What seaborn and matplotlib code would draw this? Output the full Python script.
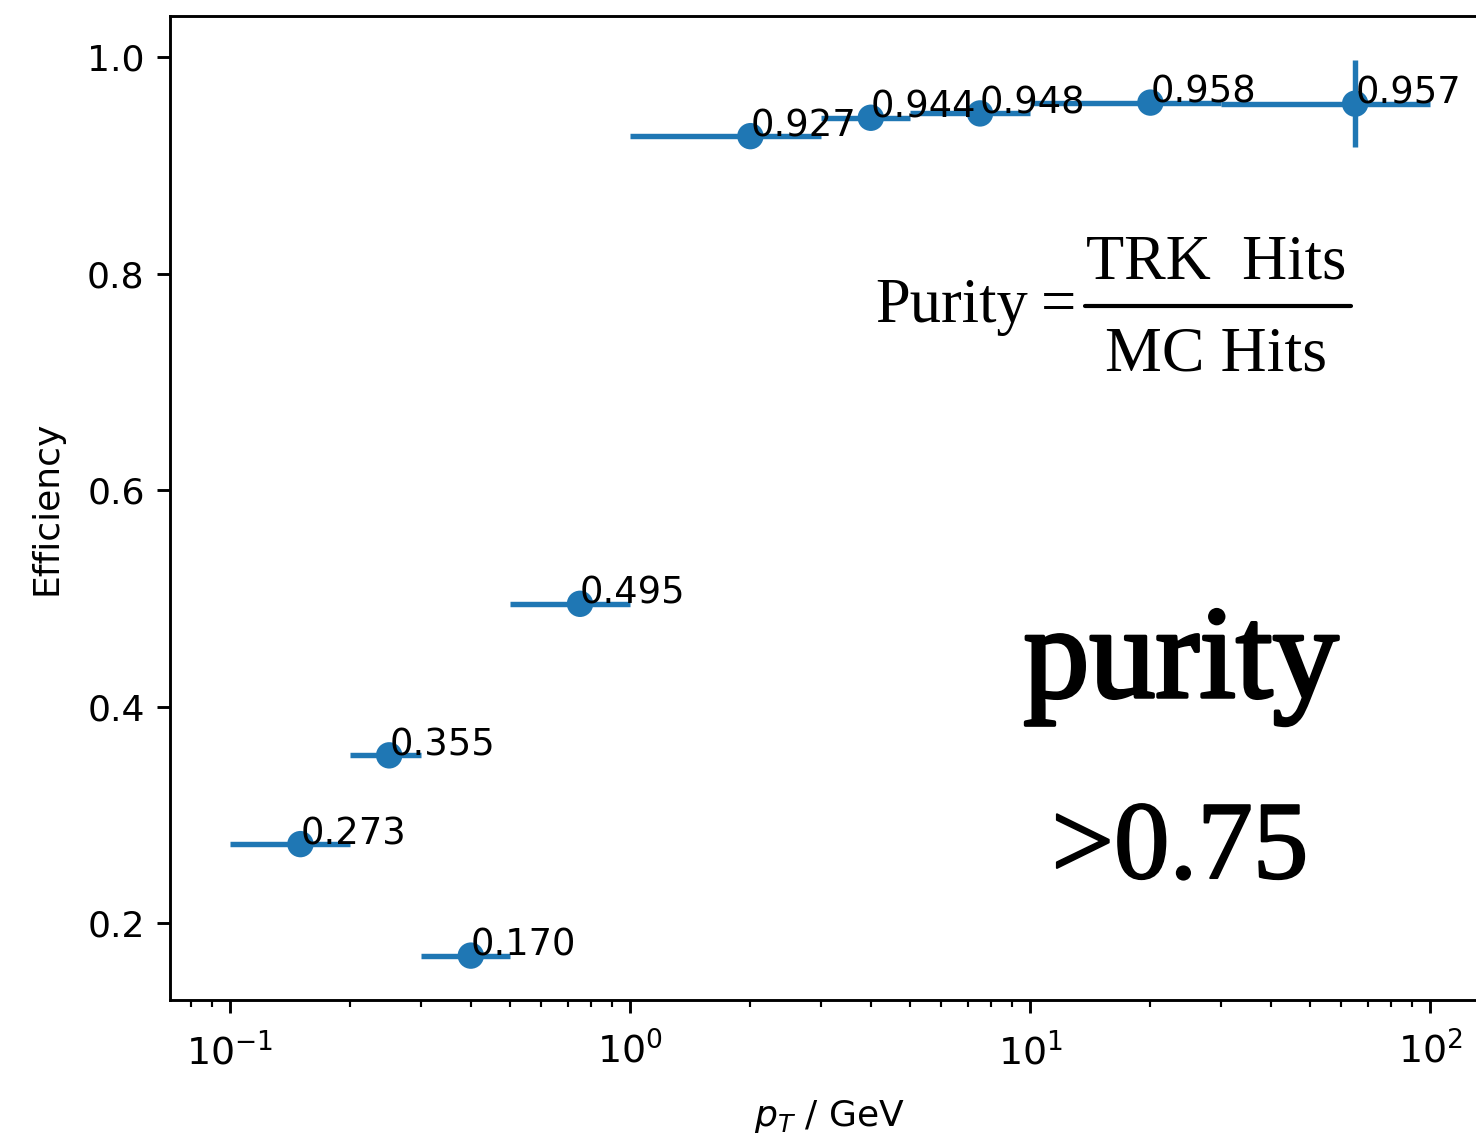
import numpy as np
import matplotlib
matplotlib.use("Agg")
import matplotlib.pyplot as plt
import matplotlib.patheffects as pe
import seaborn as sns
import pandas as pd
from matplotlib.lines import Line2D

# ---- data ----
bin_lo = [0.1, 0.2, 0.3, 0.5, 1.0, 3.0, 5.0, 10.0, 30.0]
bin_hi = [0.2, 0.3, 0.5, 1.0, 3.0, 5.0, 10.0, 30.0, 100.0]
pt_center = [0.15, 0.25, 0.4, 0.75, 2.0, 4.0, 7.5, 20.0, 65.0]
efficiency = [0.273, 0.355, 0.170, 0.495, 0.927, 0.944, 0.948, 0.958, 0.957]
eff_err = [0.0, 0.0, 0.0, 0.0, 0.0, 0.0, 0.0, 0.0, 0.04]
labels = ["0.273", "0.355", "0.170", "0.495", "0.927", "0.944", "0.948", "0.958", "0.957"]

df = pd.DataFrame({"pt": pt_center, "eff": efficiency})

S = 2.6  # scale factor relative to matplotlib defaults
sns.set_style("ticks", {"axes.edgecolor": "black", "xtick.color": "black",
                        "ytick.color": "black", "text.color": "black",
                        "axes.labelcolor": "black"})
plt.rcParams["font.family"] = ["DejaVu Sans"]
plt.rcParams.update({
    "font.size": 10 * S,
    "axes.linewidth": 0.8 * S,
    "xtick.major.size": 3.5 * S, "ytick.major.size": 3.5 * S,
    "xtick.minor.size": 2.0 * S,
    "xtick.major.width": 0.8 * S, "ytick.major.width": 0.8 * S,
    "xtick.minor.width": 0.6 * S,
    "xtick.major.pad": 5.5 * S, "ytick.major.pad": 3.5 * S,
    "xtick.labelsize": 10.5 * S, "ytick.labelsize": 10 * S,
    "axes.labelsize": 10 * S,
    "mathtext.fontset": "dejavusans",
})

W, H = 1476, 1136
fig = plt.figure(figsize=(W / 100, H / 100), dpi=100)
ax = fig.add_axes([170 / W, 136 / H, 1320 / W, 984 / H])

color = "#1f77b4"
xerr = [np.array(pt_center) - np.array(bin_lo), np.array(bin_hi) - np.array(pt_center)]
ax.errorbar(pt_center, efficiency, xerr=xerr, yerr=eff_err, fmt="none",
            ecolor=color, elinewidth=1.5 * S, zorder=2)
sns.scatterplot(data=df, x="pt", y="eff", ax=ax, color=color, s=19 ** 2,
                edgecolor="none", linewidth=0, zorder=3)

for x, y, t in zip(pt_center, efficiency, labels):
    ax.text(x, y, t, fontsize=10.2 * S, zorder=4)

ax.set_xscale("log")
ax.set_xlim(10 ** -1.15, 10 ** 2.15)
ax.set_ylim(0.129, 1.038)
ax.set_yticks([0.2, 0.4, 0.6, 0.8, 1.0])
ax.set_xlabel("$p_T$ / GeV", labelpad=7 * S)
ax.set_ylabel("Efficiency", labelpad=6.5 * S)
ax.spines["right"].set_visible(False)

# ---- annotations (serif) ----
serif = ["Liberation Serif", "DejaVu Serif"]
def fx(px):
    return px / W
def fy(py):
    return 1 - py / H

fs = 45
fig.text(fx(1028), fy(322), "Purity", family=serif, fontsize=fs,
         ha="right", va="baseline")
fig.text(fx(1058), fy(322), "=", family=serif, fontsize=fs,
         ha="center", va="baseline")
fig.text(fx(1216), fy(278), "TRK  Hits", family=serif, fontsize=fs,
         ha="center", va="baseline")
fig.text(fx(1216), fy(370), "MC Hits", family=serif, fontsize=fs + 1,
         ha="center", va="baseline")
fig.add_artist(Line2D([fx(1085), fx(1351)], [fy(306), fy(306)],
                      transform=fig.transFigure, color="black", lw=3))

fig.text(fx(1181), fy(697), "purity", family=serif, fontsize=95,
         ha="center", va="baseline",
         path_effects=[pe.withStroke(linewidth=2.5, foreground="black")])
fig.text(fx(1180), fy(878), ">0.75", family=serif, fontsize=80,
         ha="center", va="baseline",
         path_effects=[pe.withStroke(linewidth=1.5, foreground="black")])

fig.savefig("out.png", dpi=100)
